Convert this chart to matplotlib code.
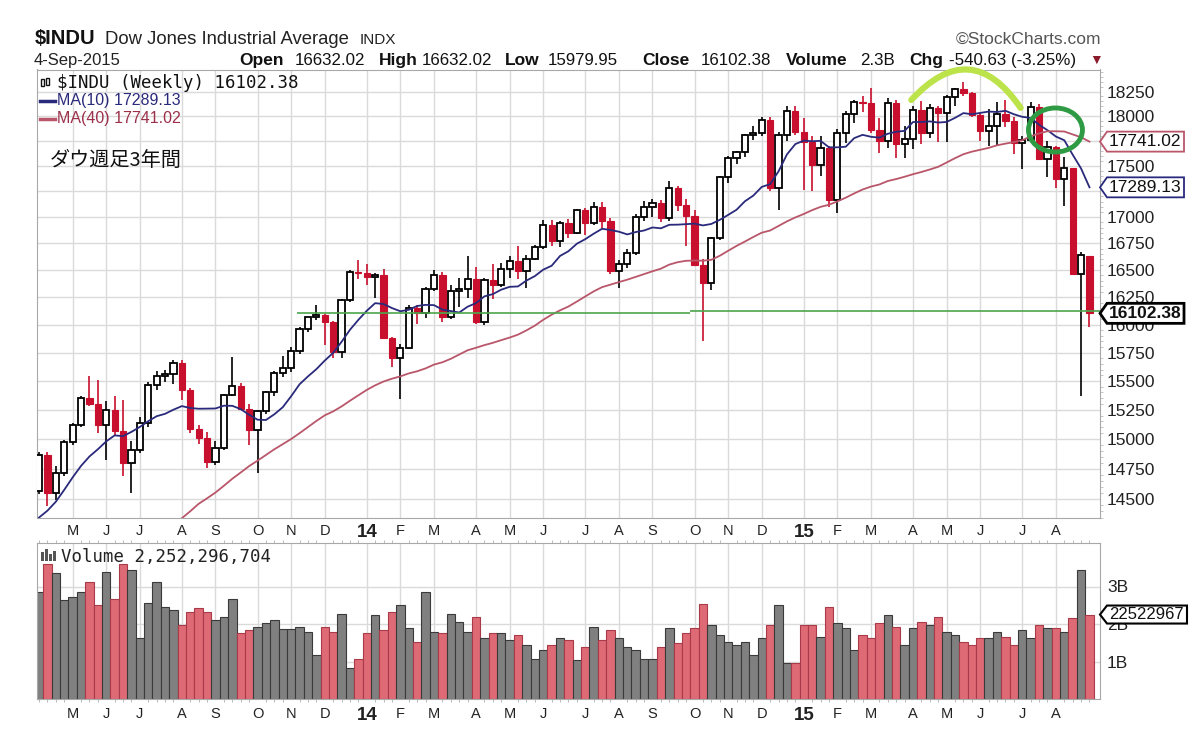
import numpy as np
import pandas as pd
import matplotlib
matplotlib.use("Agg")
import matplotlib.pyplot as plt
from matplotlib.patches import Ellipse, Polygon, Rectangle
from matplotlib.lines import Line2D
from matplotlib.ticker import FixedLocator, FixedFormatter, NullFormatter

plt.rcParams['font.family'] = ['Liberation Sans', 'DejaVu Sans', 'Noto Sans CJK JP']

W, H = 1200, 739

# weekly bars dated on Friday: 12-Apr-2013 .. 4-Sep-2015
week_end = pd.date_range('2013-04-12', '2015-09-04', freq='W-FRI')

# 39 weekly closes before the first bar, so the 40 week MA starts right
prior_closes = [12777, 12822, 13075, 13096, 13207, 13275, 13157, 13090, 13306, 13593,
                13579, 13437, 13610, 13328, 13343, 13107, 13093, 12815, 12588, 13010,
                13026, 13155, 13135, 13191, 12938, 13435, 13488, 13650, 13896, 14010,
                13993, 13982, 14001, 14090, 14397, 14515, 14512, 14579, 14565]

opens = [14565, 14865, 14547, 14712, 14974, 15118, 15354, 15303, 15116, 15248,
         15070, 14800, 14910, 15135, 15464, 15543, 15559, 15658, 15425, 15081,
         15010, 14810, 14922, 15376, 15452, 15258, 15073, 15237, 15399, 15570,
         15615, 15762, 15962, 16065, 16086, 16020, 15755, 16221, 16479, 16470,
         16437, 16458, 15880, 15699, 15794, 16154, 16103, 16322, 16453, 16066,
         16303, 16323, 16413, 16027, 16409, 16361, 16513, 16583, 16491, 16607,
         16717, 16924, 16776, 16947, 16851, 17068, 16944, 17100, 16961, 16493,
         16554, 16663, 17001, 17098, 17138, 16988, 17280, 17113, 17009, 16544,
         16380, 16805, 17391, 17573, 17635, 17810, 17828, 17958, 17280, 17804,
         18053, 17833, 17737, 17511, 17673, 17165, 17825, 18019, 18141, 18133,
         17856, 17749, 18128, 17713, 17763, 18058, 17826, 18080, 18025, 18191,
         18273, 18233, 18011, 17849, 17899, 18016, 17947, 17730, 17760, 18087,
         17569, 17690, 17373, 17477, 16460, 16632.02]

highs = [14888, 14890, 14770, 14995, 15134, 15365, 15542, 15510, 15323, 15365,
         15336, 14980, 15190, 15490, 15590, 15600, 15680, 15680, 15440, 15120,
         15060, 14980, 15390, 15709, 15480, 15300, 15250, 15410, 15590, 15720,
         15800, 15980, 16070, 16175, 16100, 16030, 16230, 16500, 16595, 16555,
         16470, 16510, 15890, 15830, 16180, 16180, 16340, 16502, 16480, 16363,
         16430, 16630, 16530, 16430, 16555, 16570, 16630, 16730, 16640, 16740,
         16970, 16970, 16960, 16980, 17075, 17090, 17150, 17150, 16990, 16590,
         16700, 17030, 17160, 17180, 17170, 17350, 17300, 17180, 17070, 16600,
         16810, 17400, 17600, 17650, 17820, 17894, 17990, 17991, 17840, 18103,
         18103, 17980, 17800, 17800, 17700, 17870, 18050, 18160, 18200, 18288,
         17980, 18180, 18160, 17900, 18100, 18150, 18120, 18100, 18210, 18290,
         18351, 18240, 18030, 18070, 18140, 18160, 17990, 17800, 18140, 18120,
         17750, 17700, 17590, 17480, 16674, 16632.02]

lows = [14540, 14444, 14495, 14690, 14950, 15100, 15280, 15053, 14826, 15022,
        14688, 14551, 14880, 15100, 15418, 15490, 15470, 15330, 15050, 14960,
        14760, 14780, 14910, 15370, 15250, 14952, 14719, 15210, 15370, 15530,
        15580, 15740, 15930, 16040, 15820, 15703, 15700, 16210, 16420, 16360,
        16240, 15870, 15620, 15340, 15780, 16010, 16060, 16310, 16020, 16050,
        16160, 16240, 16007, 16000, 16230, 16340, 16430, 16420, 16330, 16590,
        16700, 16730, 16720, 16800, 16840, 16830, 16930, 16900, 16460, 16333,
        16520, 16640, 16960, 17000, 16950, 16960, 17060, 16730, 16540, 15855,
        16320, 16780, 17330, 17520, 17590, 17760, 17800, 17250, 17068, 17750,
        17810, 17262, 17250, 17400, 17100, 17037, 17730, 17930, 18040, 17830,
        17630, 17680, 17580, 17580, 17670, 17720, 17780, 17737, 17737, 18100,
        18200, 17990, 17750, 17700, 17710, 17890, 17620, 17465, 17740, 17560,
        17390, 17280, 17110, 16459, 15370, 15979.95]

closes = [14865, 14547, 14712, 14974, 15118, 15354, 15303, 15116, 15248, 15070,
          14800, 14910, 15135, 15464, 15543, 15559, 15658, 15425, 15081, 15010,
          14810, 14922, 15376, 15452, 15258, 15073, 15237, 15399, 15570, 15615,
          15762, 15962, 16065, 16086, 16020, 15755, 16221, 16479, 16470, 16437,
          16458, 15880, 15699, 15794, 16154, 16103, 16322, 16453, 16066, 16303,
          16323, 16413, 16027, 16409, 16361, 16513, 16583, 16491, 16607, 16717,
          16924, 16776, 16947, 16851, 17068, 16944, 17100, 16961, 16493, 16554,
          16663, 17001, 17098, 17138, 16988, 17280, 17113, 17009, 16544, 16380,
          16805, 17391, 17573, 17635, 17810, 17828, 17958, 17280, 17804, 18053,
          17833, 17737, 17511, 17673, 17165, 17825, 18019, 18141, 18133, 17856,
          17749, 18128, 17713, 17763, 18058, 17826, 18080, 18025, 18191, 18273,
          18233, 18011, 17849, 17899, 18016, 17947, 17730, 17760, 18087, 17569,
          17690, 17373, 17477, 16460, 16643, 16102.38]

# weekly volume, billions of shares
volume_b = [2.86, 3.59, 3.37, 2.64, 2.73, 2.86, 3.13, 2.51, 3.40, 2.68,
            3.59, 3.44, 1.62, 2.55, 3.13, 2.46, 2.37, 1.97, 2.33, 2.42,
            2.33, 2.11, 2.19, 2.68, 1.75, 1.84, 1.93, 2.02, 2.11, 1.86,
            1.86, 1.93, 1.80, 1.17, 1.93, 1.80, 2.28, 0.82, 1.08, 1.75,
            2.24, 1.84, 2.33, 2.51, 1.89, 1.53, 2.86, 1.80, 1.75, 2.28,
            2.06, 1.80, 2.19, 1.62, 1.75, 1.75, 1.57, 1.71, 1.44, 1.08,
            1.31, 1.44, 1.62, 1.57, 1.04, 1.40, 1.93, 1.57, 1.84, 1.62,
            1.40, 1.31, 1.08, 1.08, 1.40, 1.89, 1.49, 1.75, 1.89, 2.53,
            1.97, 1.71, 1.53, 1.44, 1.53, 1.17, 1.62, 1.97, 2.51, 0.95,
            0.95, 1.97, 1.97, 1.66, 2.46, 2.02, 1.89, 1.31, 1.71, 1.62,
            2.02, 2.24, 1.93, 1.44, 1.89, 2.06, 1.97, 2.19, 1.80, 1.71,
            1.53, 1.44, 1.62, 1.62, 1.80, 1.66, 1.44, 1.84, 1.62, 1.97,
            1.89, 1.89, 1.80, 2.15, 3.44, 2.25]

price_ticks = [14500, 14750, 15000, 15250, 15500, 15750, 16000, 16250,
               16500, 16750, 17000, 17250, 17500, 17750, 18000, 18250]
price_labels = ['14500', '14750', '15000', '15250', '15500', '15750', '16000', '16250',
                '16500', '16750', '17000', '', '17500', '', '18000', '18250']
vol_ticks = [1e9, 2e9, 3e9]
vol_labels = ['1B', '2B', '3B']

# hand drawn marks on the original (week index, price)
support_level = [16102.38, 16125]
support_from = [30.7, 77.5]
support_to = [77.5, 126.3]
arc_start = (103.8, 18163)
arc_end = (116.8, 18082)
circle_center = (120.95, 17858)

red = '#c8102e'
navy = '#2a2a7c'
maroon = '#b9566a'
grid_c = '#dadada'
spine_c = '#a8a8a8'

fig = plt.figure(figsize=(W / 100, H / 100), dpi=100)
fig.patch.set_facecolor('white')


def px_box(left, top, right, bottom):
    return [left / W, 1 - bottom / H, (right - left) / W, (bottom - top) / H]


ax = fig.add_axes(px_box(37, 69.5, 1100, 518))
axv = fig.add_axes(px_box(37, 543, 1100, 699), sharex=ax)

x = np.arange(len(closes))
o = np.array(opens, dtype=float)
h = np.array(highs, dtype=float)
l = np.array(lows, dtype=float)
c = np.array(closes, dtype=float)
down = c < o

all_closes = pd.Series(prior_closes + closes, dtype=float)
ma10 = all_closes.rolling(10).mean().values[len(prior_closes):]
ma40 = all_closes.rolling(40).mean().values[len(prior_closes):]

# ---- price panel
ax.set_yscale('log')
ax.set_xlim(-0.24, 126.25)
ax.set_ylim(14346, 18478)
ax.yaxis.set_major_locator(FixedLocator(price_ticks))
ax.yaxis.set_major_formatter(FixedFormatter(price_labels))
ax.yaxis.set_minor_locator(FixedLocator(np.arange(14350, 18500, 50)))
ax.yaxis.set_minor_formatter(NullFormatter())
ax.yaxis.tick_right()
ax.tick_params(axis='y', which='major', length=0, pad=5, labelsize=12.5, labelcolor='#222')
ax.tick_params(axis='y', which='minor', length=2, color='#bbbbbb')
ax.grid(True, which='major', color=grid_c, lw=1)
ax.set_axisbelow(True)

wick_col = np.where(down, red, 'black')
ax.vlines(x, l, h, colors=wick_col, lw=1.2, zorder=2)
body_lo = np.minimum(o, c)
body_h = np.abs(c - o)
ax.bar(x[~down], body_h[~down], bottom=body_lo[~down], width=0.74,
       facecolor='white', edgecolor='black', lw=1.3, zorder=3)
ax.bar(x[down], body_h[down], bottom=body_lo[down], width=0.74,
       facecolor=red, edgecolor=red, lw=0.8, zorder=3)

ax.plot(x, ma10, color=navy, lw=1.3, zorder=4)
ax.plot(x, ma40, color=maroon, lw=1.3, zorder=4)
ax.hlines(support_level, support_from, support_to, color='#4ca64c', lw=1.2, zorder=4)

# ---- volume panel
prev_close = np.r_[prior_closes[-1], c[:-1]]
vol_down = c < prev_close
axv.bar(x, np.array(volume_b) * 1e9, width=1.0,
        color=np.where(vol_down, '#de6a76', '#808080'),
        edgecolor=np.where(vol_down, '#a83a4a', '#3a3a3a'), lw=0.8, zorder=2)
axv.set_ylim(0, 4.16e9)
axv.set_yticks(vol_ticks, vol_labels)
axv.yaxis.tick_right()
axv.tick_params(axis='y', length=0, pad=5, labelsize=12.5, labelcolor='#222')
axv.grid(True, which='major', color=grid_c, lw=1)
axv.set_axisbelow(True)

# ---- month axis (gridline on the first week whose Monday is in the new month)
monday = week_end - pd.Timedelta(days=4)
month_idx = [i for i in range(1, len(monday)) if monday[i].month != monday[i - 1].month]
month_lab = [f"{monday[i].year % 100:02d}" if monday[i].month == 1
             else 'JFMAMJJASOND'[monday[i].month - 1] for i in month_idx]
ax.set_xticks(month_idx)
ax.set_xticklabels(month_lab)
axv.set_xticks(x, minor=True)
ax.tick_params(axis='x', which='major', length=0, pad=4, labelsize=10.5, labelcolor='#222')
ax.tick_params(axis='x', which='minor', length=0)
axv.tick_params(axis='x', which='major', length=0, pad=6, labelsize=10.5, labelcolor='#222')
axv.tick_params(axis='x', which='minor', length=2.5, color='#b0b0b0', top=True, bottom=True)
for a in (ax, axv):
    for lab in a.get_xticklabels():
        if lab.get_text().isdigit():
            lab.set_fontweight('bold')
            lab.set_fontsize(13.5)
    for s in a.spines.values():
        s.set_color(spine_c)

# ---- hand drawn marks
ax.annotate('', xy=arc_end, xytext=arc_start, annotation_clip=False,
            arrowprops=dict(arrowstyle='-', connectionstyle='arc3,rad=-0.63',
                            color='#bce44a', lw=4.5, shrinkA=0, shrinkB=0))
cc = ax.transAxes.inverted().transform(ax.transData.transform(circle_center))
ax.add_patch(Ellipse(cc, 54 / 1063, 44 / 448.5, transform=ax.transAxes, fill=False,
                     ec='#2f9a44', lw=3.5, clip_on=False, zorder=6))


# ---- texts
def ftxt(xp, yp, s, **kw):
    fig.text(xp / W, 1 - yp / H, s, va='baseline', **kw)


ftxt(35, 44.5, '$INDU', fontsize=14.5, fontweight='bold', color='#111')
ftxt(105, 44, 'Dow Jones Industrial Average', fontsize=13.3, color='#222')
ftxt(360, 44, 'INDX', fontsize=11, color='#222')
ftxt(1101, 44, '©StockCharts.com', fontsize=12.5, color='#555', ha='right')
ftxt(34, 65, '4-Sep-2015', fontsize=12, color='#222')
quote = [(239, 'Open', True), (295, '16632.02', False), (379, 'High', True),
         (422, '16632.02', False), (505, 'Low', True), (548, '15979.95', False),
         (642, 'Close', True), (701, '16102.38', False), (786, 'Volume', True),
         (860, '2.3B', False), (909, 'Chg', True), (949, '-540.63 (-3.25%)', False)]
for xp, s, bold in quote:
    ftxt(xp, 65, s, fontsize=12.5 if bold else 12.2,
         fontweight='bold' if bold else 'normal', color='#111')
ftxt(1089, 64, '▼', fontsize=10, color='#8b1a2b')

ftxt(57, 87.5, '$INDU (Weekly) 16102.38', family='DejaVu Sans Mono', fontsize=12.5, color='#111')
for xi, yb, yt in [(41, 86, 79), (46, 85, 78)]:
    fig.add_artist(Rectangle((xi / W, 1 - yb / H), 3 / W, (yb - yt) / H,
                             transform=fig.transFigure, fc='white', ec='#111', lw=1))
fig.add_artist(Line2D([40 / W, 55 / W], [1 - 101 / H] * 2, color=navy, lw=2.5))
fig.add_artist(Line2D([40 / W, 55 / W], [1 - 119 / H] * 2, color=maroon, lw=2.5))
ftxt(57, 105.5, 'MA(10) 17289.13', fontsize=11.5, color=navy)
ftxt(57, 123.5, 'MA(40) 17741.02', fontsize=11.5, color='#9c2f4a')
ftxt(50, 166, 'ダウ週足3年間', family=['Noto Sans CJK JP'], fontsize=14.5, color='#111')

for xi, ht in [(41, 9), (45, 12), (49, 7), (53, 10)]:
    fig.add_artist(Rectangle((xi / W, 1 - 561 / H), 3 / W, ht / H,
                             transform=fig.transFigure, fc='#555', ec='none'))
ftxt(61, 561.5, 'Volume 2,252,296,704', family='DejaVu Sans Mono', fontsize=12.5, color='#222')


def tag(axis, value, text, ec, lw=1.3, weight='normal', half=10, right=1184, size=12.5):
    yc = H - axis.transData.transform((0, value))[1]
    pts = [(1100, yc), (1107, yc - half), (right, yc - half), (right, yc + half), (1107, yc + half)]
    fig.add_artist(Polygon([(px / W, 1 - py / H) for px, py in pts], closed=True,
                           transform=fig.transFigure, facecolor='white', edgecolor=ec,
                           lw=lw, zorder=5))
    fig.text((1106 + right) / 2 / W, 1 - yc / H, text, ha='center', va='center',
             fontsize=size, fontweight=weight, color='#111', zorder=6)


tag(ax, ma40[-1], '17741.02', maroon)
tag(ax, ma10[-1], '17289.13', navy)
tag(ax, closes[-1], '16102.38', 'black', lw=2, weight='bold', half=10)
tag(axv, 2.2523e9, '22522967', 'black', lw=1.5, half=9, right=1187, size=12)

fig.savefig('out.png', dpi=100)
